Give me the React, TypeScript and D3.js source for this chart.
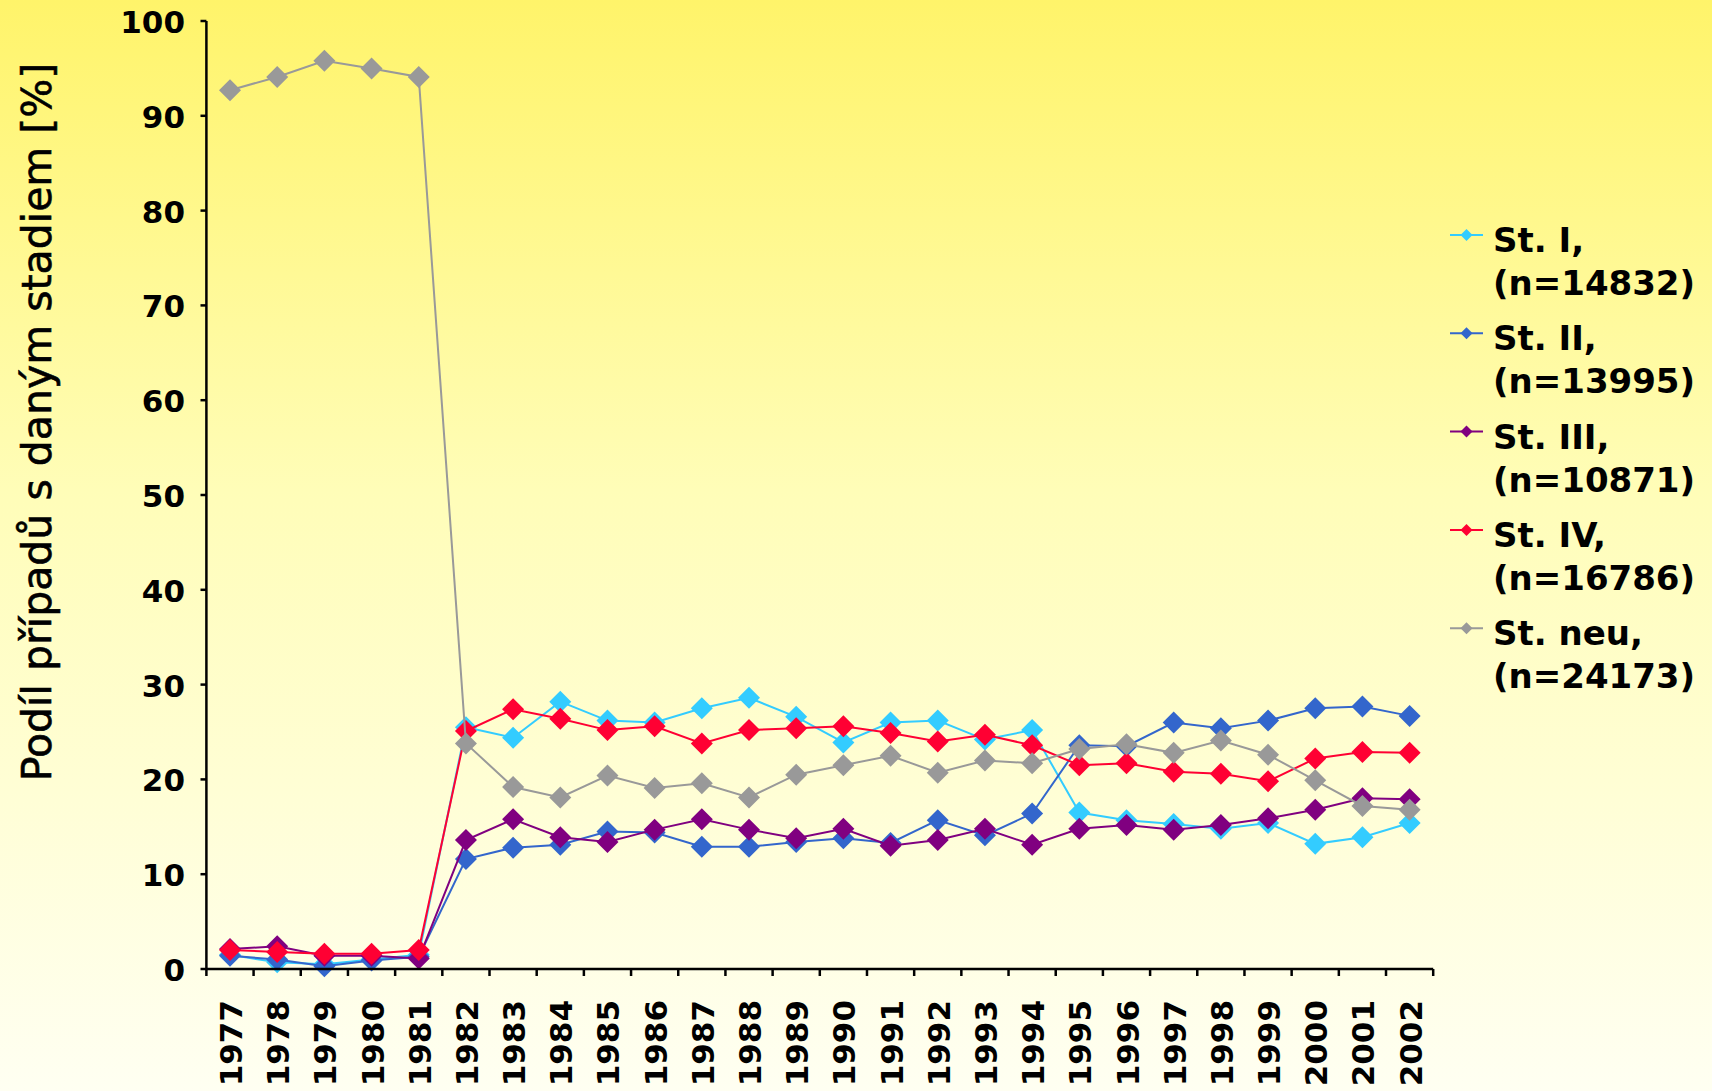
import React, { useEffect } from "react";
import * as d3 from "d3";

const years = [
  "1977","1978","1979","1980","1981","1982","1983","1984","1985","1986","1987","1988","1989",
  "1990","1991","1992","1993","1994","1995","1996","1997","1998","1999","2000","2001","2002",
];

const stI = [1.5, 0.7, 0.5, 1.0, 1.5, 25.5, 24.4, 28.2, 26.2, 26.0, 27.5, 28.6, 26.6, 23.9, 26.0, 26.2, 24.2, 25.2, 16.5, 15.7, 15.3, 14.8, 15.4, 13.2, 13.9, 15.4];
const stII = [1.4, 1.0, 0.3, 0.9, 1.3, 11.6, 12.8, 13.1, 14.5, 14.4, 12.9, 12.9, 13.4, 13.8, 13.3, 15.7, 14.1, 16.4, 23.6, 23.5, 26.0, 25.4, 26.2, 27.5, 27.7, 26.7];
const stIII = [2.1, 2.4, 1.4, 1.4, 1.1, 13.6, 15.8, 13.9, 13.4, 14.7, 15.8, 14.7, 13.8, 14.8, 13.0, 13.6, 14.8, 13.1, 14.8, 15.2, 14.7, 15.2, 15.9, 16.8, 18.0, 17.9];
const stIV = [2.0, 1.8, 1.6, 1.6, 2.0, 25.1, 27.4, 26.4, 25.2, 25.6, 23.8, 25.2, 25.4, 25.6, 24.9, 24.0, 24.7, 23.6, 21.5, 21.7, 20.8, 20.6, 19.8, 22.2, 22.9, 22.8];
const stNeu = [92.7, 94.1, 95.8, 95.0, 94.1, 23.8, 19.2, 18.1, 20.4, 19.1, 19.6, 18.1, 20.5, 21.5, 22.5, 20.7, 22.0, 21.7, 23.2, 23.7, 22.8, 24.1, 22.6, 19.9, 17.2, 16.8];

const seriesNames = ["St. I,", "St. II,", "St. III,", "St. IV,", "St. neu,"];
const seriesCounts = ["(n=14832)", "(n=13995)", "(n=10871)", "(n=16786)", "(n=24173)"];
const seriesColors = ["#33CCFF", "#3366CC", "#800080", "#FF0033", "#999999"];
const seriesValues = [stI, stII, stIII, stIV, stNeu];

const yTicks = [0, 10, 20, 30, 40, 50, 60, 70, 80, 90, 100];

const W = 1712;
const H = 1091;
const FONT = "'DejaVu Sans', Verdana, sans-serif";

export default function App() {
  useEffect(() => {
    document.body.style.margin = "0";
  }, []);

  const x = d3.scaleBand<string>().domain(years).range([206.4, 1433.2]).padding(0);
  const y = d3.scaleLinear().domain([0, 100]).range([969, 21]);
  const cx = (yr: string) => (x(yr) as number) + x.bandwidth() / 2;

  const line = d3
    .line<number>()
    .x((_, i) => cx(years[i]))
    .y((v) => y(v));

  const bigMarker = d3.symbol(d3.symbolSquare, 242)() as string;
  const smallMarker = d3.symbol(d3.symbolSquare, 72)() as string;

  const tickXs = years.map((yr) => x(yr) as number).concat([x.range()[1]]);

  return (
    <svg width={W} height={H} style={{ display: "block", position: "absolute", left: 0, top: 0 }}>
      <defs>
        <linearGradient id="bg" x1="0" y1="0" x2="0" y2="1">
          <stop offset="0" stopColor="#FFF46A" />
          <stop offset="0.45" stopColor="#FFFDB8" />
          <stop offset="1" stopColor="#FFFFF2" />
        </linearGradient>
      </defs>
      <rect x={0} y={0} width={W} height={H} fill="url(#bg)" />

      {/* series */}
      {seriesValues.map((vals, s) => (
        <g key={s}>
          <path d={line(vals) as string} fill="none" stroke={seriesColors[s]} strokeWidth={2} />
          {vals.map((v, i) => (
            <path
              key={i}
              d={bigMarker}
              transform={`translate(${cx(years[i])},${y(v)}) rotate(45)`}
              fill={seriesColors[s]}
            />
          ))}
        </g>
      ))}

      {/* axes */}
      <line x1={206.4} y1={y(100)} x2={206.4} y2={y(0)} stroke="#000" strokeWidth={2.5} />
      <line x1={206.4} y1={y(0)} x2={1433.2} y2={y(0)} stroke="#000" strokeWidth={2.5} />
      {yTicks.map((t) => (
        <g key={t}>
          <line x1={200.5} x2={206.4} y1={y(t)} y2={y(t)} stroke="#000" strokeWidth={2.5} />
          <text
            x={185}
            y={y(t) + 12}
            textAnchor="end"
            fontFamily={FONT}
            fontWeight="bold"
            fontSize={31}
            fill="#000"
          >
            {t}
          </text>
        </g>
      ))}
      {tickXs.map((tx, i) => (
        <line key={i} x1={tx} x2={tx} y1={y(0)} y2={y(0) + 7} stroke="#000" strokeWidth={2.5} />
      ))}
      {years.map((yr) => (
        <text
          key={yr}
          transform={`translate(${cx(yr)},1000) rotate(-90)`}
          y={12}
          textAnchor="end"
          fontFamily={FONT}
          fontWeight="bold"
          fontSize={31}
          fill="#000"
        >
          {yr}
        </text>
      ))}

      {/* y axis title */}
      <text
        transform="translate(51,422) rotate(-90)"
        textAnchor="middle"
        fontFamily={FONT}
        fontSize={41}
        stroke="#000"
        strokeWidth={0.6}
        fill="#000"
      >
        Podíl případů s daným stadiem [%]
      </text>

      {/* legend */}
      {seriesNames.map((name, s) => {
        const base = 252 + s * 98.3;
        return (
          <g key={name}>
            <line x1={1450} x2={1483} y1={base - 17} y2={base - 17} stroke={seriesColors[s]} strokeWidth={2} />
            <path d={smallMarker} transform={`translate(1466.5,${base - 17}) rotate(45)`} fill={seriesColors[s]} />
            <text x={1493} y={base} fontFamily={FONT} fontWeight="bold" fontSize={34} fill="#000">
              {name}
            </text>
            <text x={1493} y={base + 43} fontFamily={FONT} fontWeight="bold" fontSize={34} fill="#000">
              {seriesCounts[s]}
            </text>
          </g>
        );
      })}
    </svg>
  );
}
